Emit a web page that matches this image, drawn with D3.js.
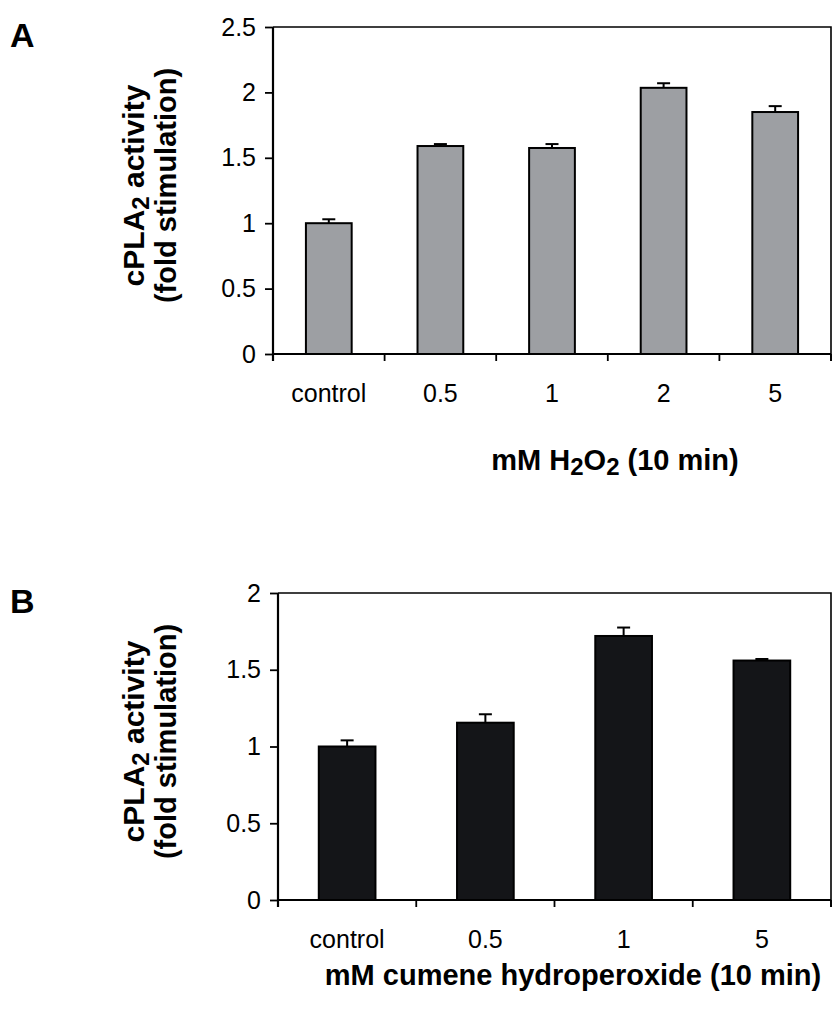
<!DOCTYPE html>
<html>
<head>
<meta charset="utf-8">
<script src="https://cdn.jsdelivr.net/npm/d3@7"></script>
<style>
  body { margin: 0; background: #fff; }
  text { font-family: "Liberation Sans", Arial, sans-serif; fill: #000; }
</style>
</head>
<body>
<div id="chart"></div>
<script>
// panel A data
var catsA = ["control", "0.5", "1", "2", "5"];
var valsA = [1.0, 1.59, 1.575, 2.035, 1.85];
var errA = [0.03, 0.015, 0.03, 0.035, 0.045];
var yTicksA = [0, 0.5, 1, 1.5, 2, 2.5];

// panel B data
var catsB = ["control", "0.5", "1", "5"];
var valsB = [1.0, 1.155, 1.72, 1.56];
var errB = [0.04, 0.055, 0.055, 0.01];
var yTicksB = [0, 0.5, 1, 1.5, 2];

var W = 833, H = 1010;

var svg = d3.select("#chart")
  .append("svg")
    .attr("width", W)
    .attr("height", H);

function panel(opt) {
  var x = d3.scaleBand()
    .domain(opt.cats)
    .range([opt.left, opt.right])
    .padding(0);
  var y = d3.scaleLinear()
    .domain([0, d3.max(opt.yTicks)])
    .range([opt.bottom, opt.top]);

  var g = svg.append("g");

  // bars
  var bw = x.bandwidth() * 0.41;
  var data = opt.cats.map(function(c, i) { return {cat: c, v: opt.vals[i], e: opt.errs[i]}; });

  // error bars (upper only)
  var eb = g.selectAll(".eb").data(data).enter().append("g");
  eb.append("line")
    .attr("x1", function(d) { return x(d.cat) + x.bandwidth() / 2; })
    .attr("x2", function(d) { return x(d.cat) + x.bandwidth() / 2; })
    .attr("y1", function(d) { return y(d.v); })
    .attr("y2", function(d) { return y(d.v + d.e); })
    .attr("stroke", "#000").attr("stroke-width", 2);
  eb.append("line")
    .attr("x1", function(d) { return x(d.cat) + x.bandwidth() / 2 - 6.5; })
    .attr("x2", function(d) { return x(d.cat) + x.bandwidth() / 2 + 6.5; })
    .attr("y1", function(d) { return y(d.v + d.e); })
    .attr("y2", function(d) { return y(d.v + d.e); })
    .attr("stroke", "#000").attr("stroke-width", 2);

  g.selectAll(".bar").data(data).enter().append("rect")
    .attr("x", function(d) { return x(d.cat) + (x.bandwidth() - bw) / 2; })
    .attr("y", function(d) { return y(d.v); })
    .attr("width", bw)
    .attr("height", function(d) { return y(0) - y(d.v); })
    .attr("fill", opt.fill)
    .attr("stroke", "#000")
    .attr("stroke-width", 2);

  // frame top + right
  g.append("path")
    .attr("d", "M" + opt.left + "," + opt.top + "H" + opt.right + "V" + (opt.bottom + 7))
    .attr("fill", "none").attr("stroke", "#000").attr("stroke-width", 1.6);

  // y axis
  var ya = g.append("g")
    .attr("transform", "translate(" + opt.left + ",0)")
    .call(d3.axisLeft(y).tickValues(opt.yTicks).tickSize(8).tickPadding(9).tickFormat(function(d) { return String(d); }));
  ya.select(".domain").attr("stroke-width", 2.2).attr("d", "M0," + opt.top + "V" + (opt.bottom + 7));
  ya.selectAll(".tick line").attr("stroke-width", 1.8);
  ya.selectAll(".tick text").style("font-size", "25px").style("font-family", "'Liberation Sans', Arial, sans-serif");

  // x axis: line and boundary ticks
  var bounds = opt.cats.map(function(c) { return x(c); }).concat([opt.right]);
  g.append("line")
    .attr("x1", opt.left).attr("x2", opt.right)
    .attr("y1", opt.bottom).attr("y2", opt.bottom)
    .attr("stroke", "#000").attr("stroke-width", 2.2);
  g.selectAll(".xt").data(bounds).enter().append("line")
    .attr("x1", function(d) { return d; }).attr("x2", function(d) { return d; })
    .attr("y1", opt.bottom).attr("y2", opt.bottom + 7)
    .attr("stroke", "#000").attr("stroke-width", 1.8);

  var xa = g.append("g")
    .attr("transform", "translate(0," + opt.bottom + ")")
    .call(d3.axisBottom(x).tickSize(0).tickPadding(30));
  xa.select(".domain").remove();
  xa.selectAll(".tick text").style("font-size", "25px").style("font-family", "'Liberation Sans', Arial, sans-serif");

  // y title
  var cy = (opt.top + opt.bottom) / 2 - 5;
  var yt = g.append("text")
    .attr("transform", "translate(" + 144 + "," + cy + ") rotate(-90)")
    .attr("text-anchor", "middle")
    .style("font-size", "30px").style("font-weight", "bold");
  yt.append("tspan").text("cPLA");
  yt.append("tspan").attr("dy", 5).style("font-size", "24px").text("2");
  yt.append("tspan").attr("dy", -5).text(" activity");
  g.append("text")
    .attr("transform", "translate(" + 176 + "," + cy + ") rotate(-90)")
    .attr("text-anchor", "middle")
    .style("font-size", "29px").style("font-weight", "bold")
    .text("(fold stimulation)");

  // x title
  var xt = g.append("text")
    .attr("x", opt.xTitleX).attr("y", opt.xTitleY)
    .attr("text-anchor", "middle")
    .style("font-size", "29px").style("font-weight", "bold");
  opt.xTitle.forEach(function(p) {
    var s = xt.append("tspan").text(p.t);
    if (p.sub) s.attr("dy", 5).style("font-size", "24px");
    else if (p.after) s.attr("dy", -5);
  });

  // panel letter
  g.append("text")
    .attr("x", 10).attr("y", opt.top + 20)
    .style("font-size", "34px").style("font-weight", "bold")
    .text(opt.letter);
}

panel({
  cats: catsA, vals: valsA, errs: errA, yTicks: yTicksA,
  left: 273, right: 831, top: 27, bottom: 354,
  fill: "#9d9fa3", letter: "A",
  xTitleX: 615, xTitleY: 470,
  xTitle: [{t: "mM H"}, {t: "2", sub: true}, {t: "O", after: true}, {t: "2", sub: true}, {t: " (10 min)", after: true}]
});

panel({
  cats: catsB, vals: valsB, errs: errB, yTicks: yTicksB,
  left: 278, right: 831, top: 593, bottom: 900,
  fill: "#141518", letter: "B",
  xTitleX: 573, xTitleY: 985,
  xTitle: [{t: "mM cumene hydroperoxide (10 min)"}]
});
</script>
</body>
</html>
